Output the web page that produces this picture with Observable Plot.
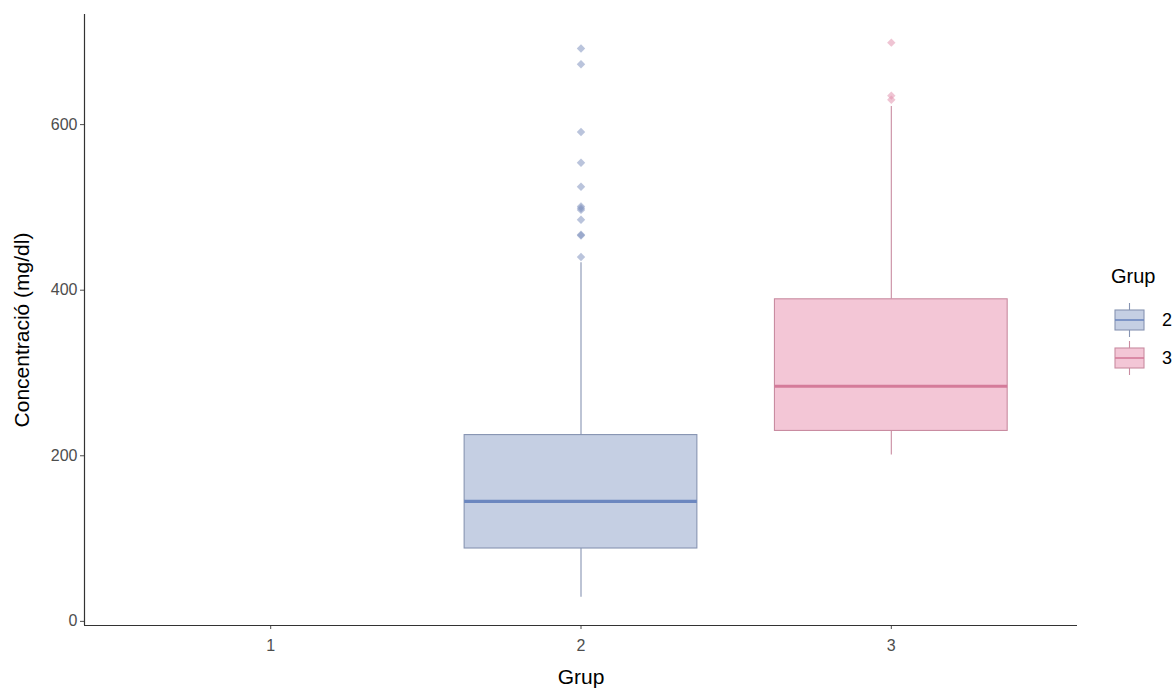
<!DOCTYPE html>
<html>
<head>
<meta charset="utf-8">
<script src="https://cdn.jsdelivr.net/npm/d3@7"></script>
<script src="https://cdn.jsdelivr.net/npm/@observablehq/plot@0.6"></script>
<style>
  html, body { margin: 0; padding: 0; background: #ffffff; }
  #wrap { position: relative; width: 1176px; height: 690px; font-family: "Liberation Sans", Arial, sans-serif; }
  #legend { position: absolute; left: 0; top: 0; }
</style>
</head>
<body>
<div id="wrap"><div id="chart"></div><svg id="legend" width="1176" height="690"></svg></div>
<script>
// ---- data ----
const groups = [2, 3];
const groupLabels = ["2", "3"];
const q1 = [88, 230];
const medians = [145, 284];
const q3 = [225, 389];
const whiskerLow = [29, 201];
const whiskerHigh = [433, 622];
const outliers2 = [692, 673, 591, 554, 525, 501, 499, 497, 485, 467, 466, 440];
const outliers3 = [699, 635, 630];
const xTicks = [1, 2, 3];
const yTicks = [0, 200, 400, 600];

const FONT = "Liberation Sans, Arial, sans-serif";

// colours
const fills = ["#c5cfe3", "#f3c6d6"];
const strokes = ["#8794b2", "#c98ca1"];
const medianColors = ["#6c87bf", "#d47b9a"];
const pointColors = ["#8294c0", "#e294ae"];

const boxes = groups.map((g, i) => ({
  g, q1: q1[i], med: medians[i], q3: q3[i], lo: whiskerLow[i], hi: whiskerHigh[i],
  fill: fills[i], stroke: strokes[i], mc: medianColors[i]
}));
const outl = [
  ...outliers2.map(v => ({g: 2, v, c: pointColors[0]})),
  ...outliers3.map(v => ({g: 3, v, c: pointColors[1]}))
];
const hw = 0.375;

const chart = Plot.plot({
  width: 1176,
  height: 690,
  marginLeft: 84,
  marginRight: 99,
  marginTop: 14,
  marginBottom: 65,
  style: {fontFamily: FONT, background: "#ffffff"},
  x: {type: "linear", domain: [0.4, 3.6]},
  y: {domain: [-5, 733]},
  marks: [
    // whiskers
    Plot.ruleX(boxes, {x: "g", y1: "lo", y2: "q1", stroke: "stroke", strokeWidth: 1.1}),
    Plot.ruleX(boxes, {x: "g", y1: "q3", y2: "hi", stroke: "stroke", strokeWidth: 1.1}),
    // boxes
    Plot.rect(boxes, {x1: d => d.g - hw, x2: d => d.g + hw, y1: "q1", y2: "q3", fill: "fill", stroke: "stroke", strokeWidth: 1.1}),
    // medians
    Plot.ruleY(boxes, {y: "med", x1: d => d.g - hw, x2: d => d.g + hw, stroke: "mc", strokeWidth: 3.2}),
    // outliers
    Plot.dot(outl, {x: "g", y: "v", symbol: "diamond2", r: 3.8, fill: "c", fillOpacity: 0.55, stroke: "none"}),
    // axes
    Plot.axisY({ticks: yTicks, tickSize: 4, tickPadding: 3, fontSize: 16, color: "#4d4d4d", label: null}),
    Plot.axisX({ticks: xTicks, tickSize: 4, tickPadding: 10, fontSize: 16, color: "#4d4d4d", label: null, tickFormat: d => String(d)}),
    Plot.ruleX([0.4], {y1: -5, y2: 733, stroke: "#333333", strokeWidth: 1.2}),
    Plot.ruleY([-5], {x1: 0.4, x2: 3.6, stroke: "#333333", strokeWidth: 1.2}),
    // titles
    Plot.text(["Concentració (mg/dl)"], {frameAnchor: "left", textAnchor: "middle", dx: -62, dy: 10, rotate: -90, fontSize: 21, fill: "#000000"}),
    Plot.text(["Grup"], {frameAnchor: "bottom", dy: 58, fontSize: 21, fill: "#000000"})
  ]
});
document.getElementById("chart").appendChild(chart);

// ---- legend ----
const lg = d3.select("#legend");
lg.append("text").attr("x", 1111).attr("y", 283).attr("font-size", 20).attr("fill", "#000")
  .style("font-family", FONT).text("Grup");
const keyTops = [310, 348];
groups.forEach((g, i) => {
  const t = keyTops[i], xc = 1129.5;
  const k = lg.append("g");
  k.append("line").attr("x1", xc).attr("x2", xc).attr("y1", t - 7).attr("y2", t + 27)
    .attr("stroke", strokes[i]).attr("stroke-width", 1.1);
  k.append("rect").attr("x", 1115).attr("y", t).attr("width", 29).attr("height", 20)
    .attr("fill", fills[i]).attr("stroke", strokes[i]).attr("stroke-width", 1.1);
  k.append("line").attr("x1", 1115).attr("x2", 1144).attr("y1", t + 10).attr("y2", t + 10)
    .attr("stroke", medianColors[i]).attr("stroke-width", 1.6);
  lg.append("text").attr("x", 1162).attr("y", t + 10).attr("dy", "0.36em").attr("font-size", 18)
    .attr("fill", "#000").style("font-family", FONT).text(groupLabels[i]);
});
</script>
</body>
</html>
